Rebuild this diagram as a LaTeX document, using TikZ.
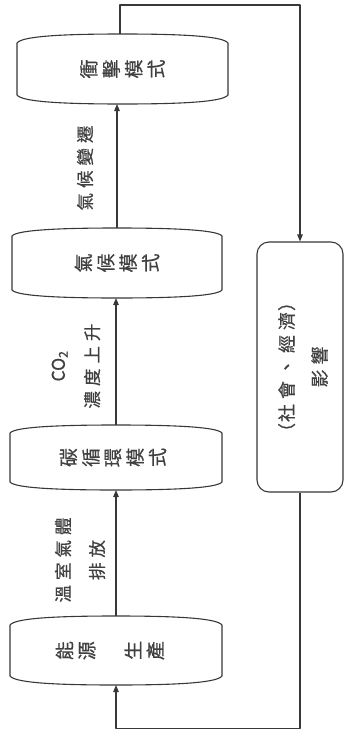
\documentclass[tikz,border=0pt]{standalone}
\usepackage{graphicx}
\usepackage{fontspec}
\setmainfont[FakeBold=0.6]{Noto Sans CJK TC}
\usetikzlibrary{arrows.meta}
\newcommand\drawbarrel[2]{%
  \draw[line] ([yshift=-#2]#1.north west)
    .. controls ([xshift=5pt,yshift=-1.5pt]#1.north west) and ([xshift=55pt]#1.north west) .. (#1.north)
    .. controls ([xshift=-55pt]#1.north east) and ([xshift=-5pt,yshift=-1.5pt]#1.north east) .. ([yshift=-#2]#1.north east)
    -- ([yshift=#2]#1.south east)
    .. controls ([xshift=-5pt,yshift=1.5pt]#1.south east) and ([xshift=-55pt]#1.south east) .. (#1.south)
    .. controls ([xshift=55pt]#1.south west) and ([xshift=5pt,yshift=1.5pt]#1.south west) .. ([yshift=#2]#1.south west)
    -- cycle;}
\newcommand\gp{\kern5pt }
\newcommand\rc[1]{\rotatebox[origin=c]{90}{#1}}
\newcommand\rg{\kern5pt }
\begin{document}
\begin{tikzpicture}[x=1pt,y=-1pt,
  line/.style={draw=black!78, line width=1.1pt, line join=round},
  arr/.style={line, -{Triangle[width=5.5pt,length=7pt]}},
  boxarea/.style={inner sep=0pt, outer sep=0pt, draw=none},
  boxtxt/.style={inner sep=0pt, text=black!75, font=\fontsize{19}{24}\selectfont},
  lbl/.style={rotate=90, align=center, inner sep=0pt, text=black!75, font=\fontsize{17.5}{34}\selectfont},
]
\useasboundingbox (0,0) rectangle (346,736);

% box areas
\node[boxarea, minimum width=211pt, minimum height=70pt] (box1) at (122.5,69) {};
\node[boxarea, minimum width=210pt, minimum height=70pt] (box2) at (117,263) {};
\node[boxarea, minimum width=212pt, minimum height=65pt] (box3) at (116,457.5) {};
\node[boxarea, minimum width=212pt, minimum height=69pt] (box4) at (116,650.5) {};
\node[draw=black!78, line width=1.1pt, rounded corners=12pt, minimum width=86pt, minimum height=250pt, inner sep=0pt] (box5) at (300,367) {};

\drawbarrel{box1}{9pt}
\drawbarrel{box2}{8pt}
\drawbarrel{box3}{8pt}
\drawbarrel{box4}{9pt}

% box texts (vertical writing, page turned a quarter turn)
\node[boxtxt] (t1) at (box1) {\rc{衝}\rg\rc{擊}\rg\rc{模}\rg\rc{式}};
\node[boxtxt] (t2) at (box2) {\rc{氣}\rg\rc{候}\rg\rc{模}\rg\rc{式}};
\node[boxtxt] (t3) at ([xshift=-3pt]box3.center) {\rc{碳}\rg\rc{循}\rg\rc{環}\rg\rc{模}\rg\rc{式}};
\node[boxtxt] (t4) at ([xshift=-6pt]box4.center) {\rc{能}\rg\rc{源}\kern29pt\rc{生}\rg\rc{產}};
\node[lbl, font=\fontsize{18}{33}\selectfont] (t5) at ([xshift=3pt]box5.center) {（\kern1pt 社\gp 會\gp 、\gp 經\gp 濟\kern1pt ）\\影\gp 響};

% arrows
\draw[arr] (box4.north) -- (box3.south);
\draw[arr] (box3.north) -- (box2.south -| box3.north);
\draw[arr] (box2.north) -- (box1.south -| box2.north);
\draw[arr] ([xshift=-2.5pt]box1.north) -- ++(0,-29) -| (box5.north);
\draw[arr] (box5.south) -- ++(0,236) -| (box4.south);

% arrow labels
\node[lbl] (l1) at (85,168) {氣\gp 候\gp 變\gp 遷};
\node[lbl] (l2) at (76,366) {CO\textsubscript{2}\\濃\gp 度\gp 上\gp 升};
\node[lbl] (l3) at (80,560) {溫\gp 室\gp 氣\gp 體\\排\gp 放};
\end{tikzpicture}
\end{document}
